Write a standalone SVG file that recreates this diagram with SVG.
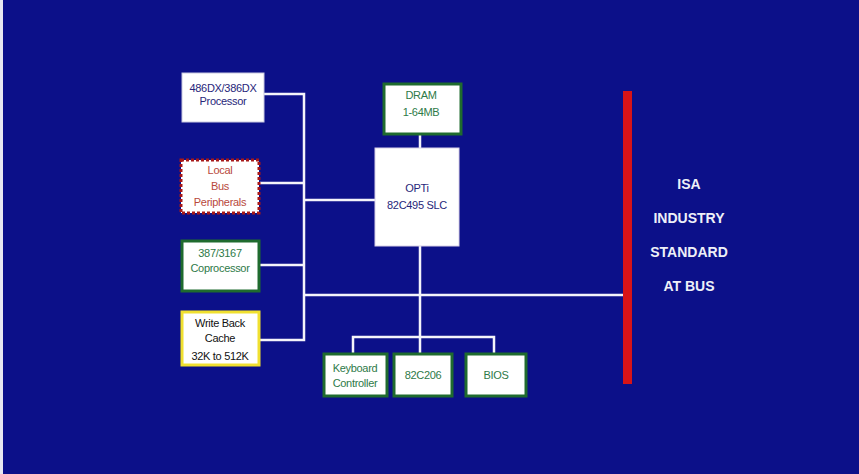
<svg xmlns="http://www.w3.org/2000/svg" width="859" height="474" viewBox="0 0 859 474">
<style>
.t{font-family:"Liberation Sans",Arial,sans-serif;font-size:11px;text-anchor:middle;letter-spacing:-0.3px}
.isa{font-family:"Liberation Sans",Arial,sans-serif;font-size:14px;font-weight:bold;fill:#eef0f8;text-anchor:middle}
.w{stroke:#f4f4fa;stroke-width:2.5;fill:none}
.g{fill:#ffffff;stroke:#1f6b2e;stroke-width:3}
</style>
<rect x="0" y="0" width="859" height="474" fill="#0c1089"/>
<rect x="0" y="0" width="3" height="474" fill="#e8e8f0"/>
<g id="connectors">
<path class="w" d="M264 94H304V340H260M260 183H304M260 265H304M304 200H375M304 295H623M420 134V148M420 246V353M353 353V337H494V353"/>
</g>
<g id="processor">
<rect x="182" y="73" width="82" height="49" fill="#ffffff" stroke="#c8c8e0" stroke-width="1"/>
<text class="t" x="223" y="92" fill="#27267a">486DX/386DX</text>
<text class="t" x="223" y="105" fill="#27267a">Processor</text>
</g>
<g id="localbus">
<rect x="181" y="160" width="78" height="53" fill="#ffffff" stroke="#a81818" stroke-width="3" stroke-dasharray="3,2"/>
<text class="t" x="220" y="174" fill="#b8483c" font-size="12">Local</text>
<text class="t" x="220" y="190" fill="#b8483c" font-size="12">Bus</text>
<text class="t" x="220" y="206" fill="#b8483c" font-size="12">Peripherals</text>
</g>
<g id="coprocessor">
<rect class="g" x="182" y="241" width="77" height="50"/>
<text class="t" x="220" y="257" fill="#2e7a48">387/3167</text>
<text class="t" x="220" y="272" fill="#2e7a48">Coprocessor</text>
</g>
<g id="cache">
<rect x="182" y="312" width="77" height="53" fill="#ffffff" stroke="#f0e030" stroke-width="3"/>
<text class="t" x="220" y="327" fill="#111">Write Back</text>
<text class="t" x="220" y="342" fill="#111">Cache</text>
<text class="t" x="220" y="360" fill="#111">32K to 512K</text>
</g>
<g id="dram">
<rect class="g" x="384" y="84" width="77" height="50"/>
<text class="t" x="421" y="99" fill="#2e7a48">DRAM</text>
<text class="t" x="421" y="116" fill="#2e7a48">1-64MB</text>
</g>
<g id="opti">
<rect x="375" y="148" width="84" height="98" fill="#ffffff" stroke="#d8d0e8" stroke-width="1"/>
<text class="t" x="417" y="192" fill="#27267a">OPTi</text>
<text class="t" x="417" y="209" fill="#27267a">82C495 SLC</text>
</g>
<g id="keyboard">
<rect class="g" x="324" y="354" width="63" height="42"/>
<text class="t" x="355" y="372" fill="#2e7a48">Keyboard</text>
<text class="t" x="355" y="387" fill="#2e7a48">Controller</text>
</g>
<g id="c206">
<rect class="g" x="394" y="354" width="58" height="42"/>
<text class="t" x="423" y="379" fill="#2e7a48">82C206</text>
</g>
<g id="bios">
<rect class="g" x="466" y="354" width="60" height="42"/>
<text class="t" x="496" y="379" fill="#2e7a48">BIOS</text>
</g>
<g id="isa">
<rect x="623" y="91" width="9" height="293" fill="#d81418"/>
<text class="isa" x="689" y="189">ISA</text>
<text class="isa" x="689" y="223">INDUSTRY</text>
<text class="isa" x="689" y="257">STANDARD</text>
<text class="isa" x="689" y="291">AT BUS</text>
</g>
</svg>
